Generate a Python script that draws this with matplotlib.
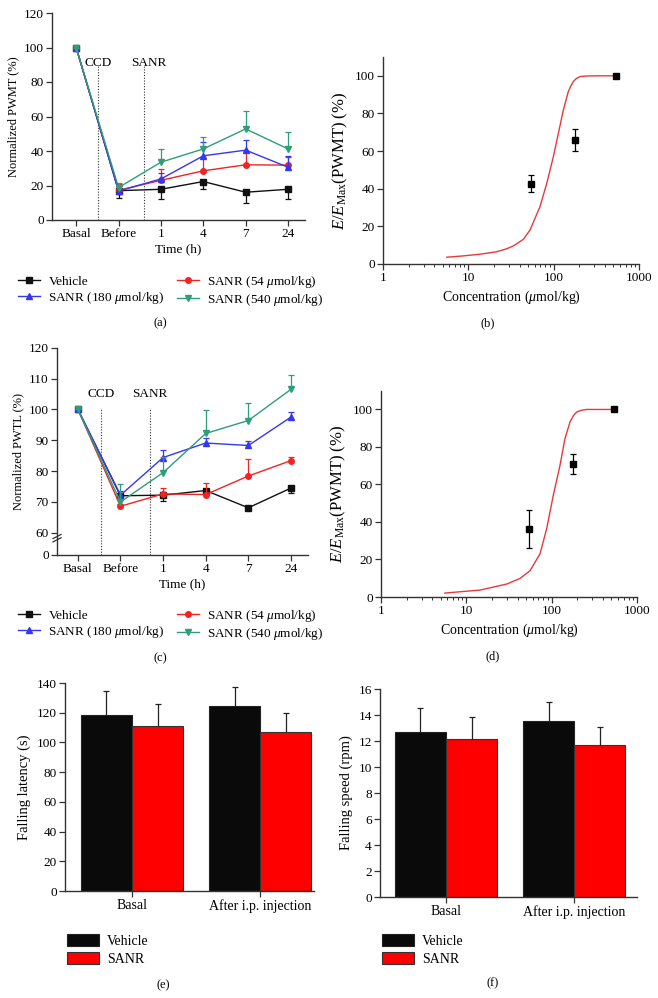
"""Six-panel figure: PWMT / PWTL time courses, dose-response fits and rotarod bars."""
import matplotlib
matplotlib.use("Agg")
import matplotlib.pyplot as plt
import numpy as np
from matplotlib.patches import Patch
from matplotlib.lines import Line2D

plt.rcParams["font.family"] = ["Liberation Serif", "DejaVu Serif"]
plt.rcParams["mathtext.fontset"] = "custom"
plt.rcParams["mathtext.rm"] = "Liberation Serif"
plt.rcParams["mathtext.it"] = "Liberation Serif:italic"
plt.rcParams["font.size"] = 9.5

# ---- data -------------------------------------------------------------
TIME_LABELS = ["Basal", "Before", "1", "4", "7", "24"]
SERIES = ["Vehicle", "SANR (54 $\\mu$mol/kg)", "SANR (180 $\\mu$mol/kg)",
          "SANR (540 $\\mu$mol/kg)"]

pwmt_vehicle = [100, 17.0, 17.8, 22.3, 16.1, 17.8]
pwmt_vehicle_err = [0, 4.5, 5.7, 4.5, 6.0, 5.7]
pwmt_s54 = [100, 17.2, 23.0, 28.5, 32.0, 31.8]
pwmt_s54_err = [0, 3.5, 6.4, 8.0, 8.0, 5.0]
pwmt_s180 = [100, 16.8, 23.8, 37.2, 40.5, 30.6]
pwmt_s180_err = [0, 3.0, 3.5, 8.0, 6.0, 6.3]
pwmt_s540 = [100, 18.8, 33.5, 41.2, 52.8, 41.2]
pwmt_s540_err = [0, 2.5, 7.7, 7.2, 10.5, 10.0]

pwtl_vehicle = [100, 72.0, 72.2, 73.7, 68.1, 74.5]
pwtl_vehicle_err = [0, 1.0, 2.0, 1.5, 0.8, 1.6]
pwtl_s54 = [100, 68.6, 72.6, 72.4, 78.4, 83.4]
pwtl_s54_err = [0, 0.8, 2.0, 3.7, 5.6, 1.3]
pwtl_s180 = [100, 72.2, 84.4, 89.1, 88.3, 97.5]
pwtl_s180_err = [0, 1.5, 2.3, 1.6, 1.4, 1.6]
pwtl_s540 = [100, 70.0, 79.5, 92.2, 96.4, 106.5]
pwtl_s540_err = [0, 5.7, 5.0, 7.5, 5.8, 4.6]

conc_points = [54, 180, 540]
pwmt_eff = [42.7, 66.0, 100.0]
pwmt_eff_err = [4.5, 6.0, 0]
pwtl_eff = [36.3, 70.8, 100.0]
pwtl_eff_err = [10.0, 5.3, 0]

fit_b_x = [5.6, 8.7, 13.7, 21.5, 28.2, 33.7, 44.1, 52.9, 69.2, 83, 99.3,
           113.6, 130, 148.7, 160, 170, 185, 204, 240, 320, 540]
fit_b_y = [3.6, 4.3, 5.2, 6.5, 8.1, 9.6, 13.1, 18.1, 30.5, 42.9, 57.1,
           69.5, 81.9, 91.7, 94.8, 97.0, 98.6, 99.6, 99.9, 100, 100]
fit_d_x = [5.6, 14.5, 29.7, 42.6, 55.7, 73, 87.5, 104.6, 125, 143, 164,
           180, 196, 220, 257, 540]
fit_d_y = [2.1, 3.7, 6.9, 9.9, 14.0, 23.0, 36.5, 54.3, 70.0, 84.4, 93.3,
           96.7, 98.6, 99.5, 100, 100]

GROUPS = ["Basal", "After i.p. injection"]
latency_vehicle = [118.2, 124.3]
latency_vehicle_err = [16.2, 12.8]
latency_sanr = [111.2, 107.2]
latency_sanr_err = [14.8, 12.6]
speed_vehicle = [12.71, 13.53]
speed_vehicle_err = [1.8, 1.5]
speed_sanr = [12.17, 11.66]
speed_sanr_err = [1.65, 1.4]

COLORS = ["#111111", "#f02424", "#3636ee", "#2e9e78"]
MARKERS = ["s", "o", "^", "v"]

W, H = 658, 998
fig = plt.figure(figsize=(W / 100, H / 100), dpi=100)


def axes_px(l, r, t, b):
    return fig.add_axes([l / W, 1 - b / H, (r - l) / W, (b - t) / H])


def style(ax):
    for s in ("top", "right"):
        ax.spines[s].set_visible(False)
    for s in ("left", "bottom"):
        ax.spines[s].set_linewidth(1.0)
        ax.spines[s].set_color("#333333")
    ax.tick_params(direction="out", length=4, width=0.9, labelsize=9.5,
                   color="#333333", pad=2)


def time_course(ax, data, errs, ccd_x, sanr_x, sanr_tx, lab_y, line_top):
    x = np.arange(len(TIME_LABELS))
    for i, (y, e) in enumerate(zip(data, errs)):
        z = np.zeros(len(e))
        yerr = [e, z] if i == 0 else [z, e]
        ln, caps, bars = ax.errorbar(x, y, yerr=yerr, color=COLORS[i],
                                     marker=MARKERS[i], ms=4, lw=1.0,
                                     elinewidth=0.9, capsize=2.2,
                                     capthick=0.9, zorder=3 + i)
        caps[1 if i == 0 else 0].set_visible(False)
    for cx in (ccd_x, sanr_x):
        ax.plot([cx, cx], [0, line_top], ls=(0, (1, 1.5)), lw=0.8,
                color="#333333", zorder=1)
    ax.text(ccd_x, lab_y, "CCD", ha="center", va="center", fontsize=9.5)
    ax.text(sanr_tx, lab_y, "SANR", ha="center", va="center", fontsize=9.5)
    ax.set_xticks(x)
    ax.set_xticklabels(TIME_LABELS)
    ax.set_xlabel("Time (h)", fontsize=9.5, labelpad=2)


# ---- (a) ---------------------------------------------------------------
ax_a = axes_px(52, 305, 13, 220)
style(ax_a)
time_course(ax_a, [pwmt_vehicle, pwmt_s54, pwmt_s180, pwmt_s540],
            [pwmt_vehicle_err, pwmt_s54_err, pwmt_s180_err, pwmt_s540_err],
            0.52, 1.60, 1.72, 91, 89)
ax_a.set_xlim(-0.57, 5.4)
ax_a.set_ylim(0, 120)
ax_a.set_yticks(range(0, 121, 20))
ax_a.set_ylabel("Normalized PWMT (%)", fontsize=9, labelpad=3)

# ---- (c) broken axis ---------------------------------------------------
K = 0.12


def fwd(y):
    y = np.asarray(y, float)
    return np.where(y >= 60, y, 60 - (60 - y) * K)


def inv(v):
    v = np.asarray(v, float)
    return np.where(v >= 60, v, 60 - (60 - v) / K)


ax_c = axes_px(57, 308, 347.7, 555)
style(ax_c)
ax_c.set_yscale("function", functions=(fwd, inv))
time_course(ax_c, [pwtl_vehicle, pwtl_s54, pwtl_s180, pwtl_s540],
            [pwtl_vehicle_err, pwtl_s54_err, pwtl_s180_err, pwtl_s540_err],
            0.54, 1.69, 1.69, 104.9, 100.6)
ax_c.set_xlim(-0.49, 5.4)
ax_c.set_ylim(0, 120)
ax_c.set_yticks([0, 60, 70, 80, 90, 100, 110, 120])
ax_c.yaxis.set_minor_locator(matplotlib.ticker.NullLocator())
ax_c.yaxis.set_major_formatter(matplotlib.ticker.FormatStrFormatter("%d"))
ax_c.set_ylabel("Normalized PWTL (%)", fontsize=9, labelpad=3)
# break marks on the y spine
y60 = (60 - float(fwd(0))) / (120 - float(fwd(0)))
for dy in (0.0, 0.016):
    yc = y60 - 0.018 - dy
    ax_c.plot([-0.016, 0.016], [yc - 0.01, yc + 0.01], color="#333333",
              lw=0.9, transform=ax_c.transAxes, clip_on=False, zorder=6)

# ---- legends for (a), (c) ---------------------------------------------
order = [0, 2, 1, 3]
handles = [Line2D([], [], color=COLORS[i], marker=MARKERS[i], ms=4, lw=1.0)
           for i in order]
labels = [SERIES[i] for i in order]
for ytop in (274, 608):
    fig.legend(handles, labels, loc="upper left", ncol=2, frameon=False,
               bbox_to_anchor=(18 / W, 1 - ytop / H), fontsize=9.5,
               handlelength=1.7, handletextpad=0.6, columnspacing=0.9,
               labelspacing=0.15, borderpad=0, borderaxespad=0)


# ---- (b), (d) dose-response -------------------------------------------
def dose(ax, fx, fy, eff, eff_err):
    style(ax)
    ax.plot(fx, fy, color="#e6393b", lw=1.0, zorder=2)
    ax.errorbar(conc_points, eff, yerr=eff_err, fmt="s", color="black",
                ms=4, elinewidth=0.9, capsize=2.2, capthick=0.9, zorder=3)
    ax.set_xscale("log")
    ax.set_xlim(1, 1000)
    ax.set_ylim(0, 110)
    ax.set_yticks(range(0, 101, 20))
    ax.set_xticks([1, 10, 100, 1000])
    ax.set_xticklabels(["1", "10", "100", "1000"])
    ax.tick_params(which="minor", length=2.2, width=0.7, color="#333333")
    ax.set_xlabel("Concentration ($\\mu$mol/kg)", fontsize=10, labelpad=3)
    ax.set_ylabel("$E/E_{\\mathrm{Max}}$(PWMT) (%)", fontsize=12,
                  labelpad=3)


ax_b = axes_px(383, 639, 57, 264)
dose(ax_b, fit_b_x, fit_b_y, pwmt_eff, pwmt_eff_err)
ax_d = axes_px(381, 637, 390.7, 597)
dose(ax_d, fit_d_x, fit_d_y, pwtl_eff, pwtl_eff_err)


# ---- (e), (f) bars ----------------------------------------------------
def bars(ax, veh, veh_err, san, san_err, ymax, step, ylabel, xlim):
    style(ax)
    x = np.arange(len(GROUPS))
    w = 0.4
    ax.bar(x - w / 2, veh, w, color="#0a0a0a", edgecolor="#222222", lw=0.8)
    ax.bar(x + w / 2, san, w, color="#ff0000", edgecolor="#333333", lw=0.8)
    for xs, v, e in ((x - w / 2, veh, veh_err), (x + w / 2, san, san_err)):
        ln, caps, _ = ax.errorbar(xs, v, yerr=[np.zeros(len(e)), e],
                                  fmt="none", ecolor="#222222",
                                  elinewidth=0.9, capsize=2.2, capthick=0.9)
        caps[0].set_visible(False)
    ax.set_xticks(x)
    ax.set_xticklabels(GROUPS, fontsize=10)
    ax.set_xlim(*xlim)
    ax.set_ylim(0, ymax)
    ax.set_yticks(np.arange(0, ymax + 0.1, step))
    ax.set_ylabel(ylabel, fontsize=10.5, labelpad=4)


ax_e = axes_px(65, 314, 683, 891)
bars(ax_e, latency_vehicle, latency_vehicle_err, latency_sanr,
     latency_sanr_err, 140, 20, "Falling latency (s)", (-0.523, 1.42))
ax_f = axes_px(380, 637, 689, 897)
bars(ax_f, speed_vehicle, speed_vehicle_err, speed_sanr, speed_sanr_err,
     16, 2, "Falling speed (rpm)", (-0.516, 1.49))

bar_handles = [Patch(facecolor="#0a0a0a", edgecolor="#222222", lw=0.8),
               Patch(facecolor="#ff0000", edgecolor="#333333", lw=0.8)]
for xl in (67, 382):
    fig.legend(bar_handles, ["Vehicle", "SANR"], loc="upper left",
               frameon=False, bbox_to_anchor=(xl / W, 1 - 934 / H),
               fontsize=10, handlelength=2.3, handleheight=0.9,
               handletextpad=0.6, labelspacing=0.35, borderpad=0,
               borderaxespad=0)

# ---- panel letters ----------------------------------------------------
for lab, px, py in (("(a)", 160, 323), ("(b)", 488, 323),
                    ("(c)", 160, 658), ("(d)", 493, 656),
                    ("(e)", 163, 985), ("(f)", 493, 983)):
    fig.text(px / W, 1 - py / H, lab, ha="center", va="center", fontsize=9)

fig.savefig("out.png", dpi=100)
